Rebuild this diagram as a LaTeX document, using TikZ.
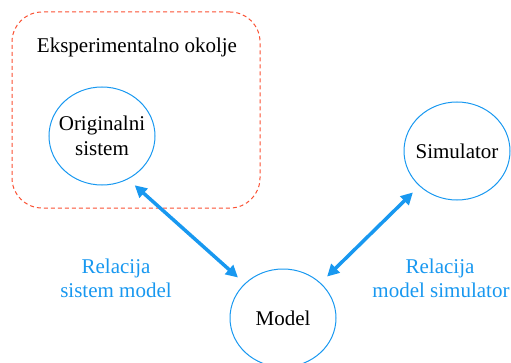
\documentclass[tikz,border=0pt]{standalone}
\usepackage{fontspec}
\setmainfont{Liberation Serif}
\usetikzlibrary{arrows.meta,shapes.geometric}
\definecolor{cblue}{RGB}{24,152,240}
\definecolor{cred}{RGB}{250,80,50}
\tikzset{
  bubble/.style={draw=cblue, line width=1pt, ellipse, minimum width=106pt, minimum height=98pt, inner sep=0pt},
  bubbletext/.style={align=center, font=\fontsize{21}{25}\selectfont, inner sep=0pt},
  envbox/.style={draw=cred, line width=1pt, dash pattern=on 4pt off 3pt, rounded corners=30pt, rectangle, minimum width=248pt, minimum height=196pt},
  relarrow/.style={cblue, line width=3.5pt, {Triangle[length=12pt,width=12pt]}-{Triangle[length=12pt,width=12pt]}, shorten <=9pt, shorten >=9pt},
  lbl/.style={text=cblue, align=center, font=\fontsize{21}{24.5}\selectfont},
  ttl/.style={font=\fontsize{21}{25}\selectfont}
}
\begin{document}
\begin{tikzpicture}[x=1pt,y=1pt]
\useasboundingbox (0,0) rectangle (511,362);
\node[envbox] (env) at (136,252) {};
\node[ttl, anchor=base] (title) at (137,309) {Eksperimentalno okolje};
\node[bubble, label={[bubbletext]center:Originalni\\sistem}] (orig) at (102,226) {};
\node[bubble, label={[bubbletext]center:Simulator}] (sim) at (457,211) {};
\node[bubble, label={[bubbletext]center:Model}] (model) at (283,44) {};
\draw[relarrow] (orig.-59) -- (model.138);
\draw[relarrow] (model.43) -- (sim.223);
\node[lbl, anchor=base] (l1) at (116,89) {Relacija};
\node[lbl, anchor=base] (l1b) at (116,65) {sistem model};
\node[lbl, anchor=base] (l2) at (440,89) {Relacija};
\node[lbl, anchor=base] (l2b) at (441,65) {model simulator};
\end{tikzpicture}
\end{document}
